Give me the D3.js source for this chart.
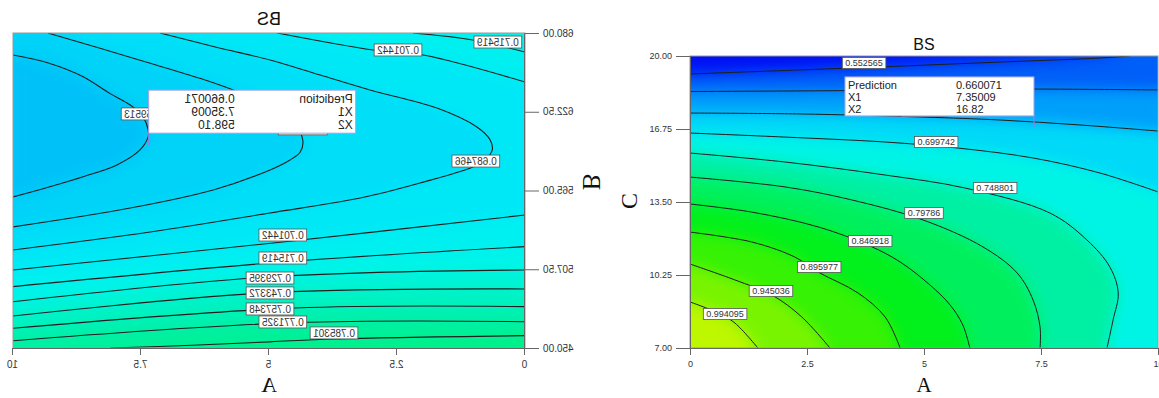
<!DOCTYPE html>
<html>
<head>
<meta charset="utf-8">
<script src="https://cdn.jsdelivr.net/npm/d3@7"></script>
<style>
  body { margin: 0; background: #fff; }
  svg { display: block; font-family: Arial, "Liberation Sans", sans-serif; }
</style>
</head>
<body>
<svg id="chart" width="1159" height="398"></svg>
<script>
// ---- values ----
const ticksA = [0, 2.5, 5, 7.5, 10];
const ticksB = [450, 507.5, 565, 622.5, 680];
const ticksC = [7, 10.25, 13.5, 16.75, 20];

// left panel: BS over A x B (the source shows this panel mirrored)
const levelsB = [0.659513, 0.673489, 0.687466, 0.701442, 0.715419, 0.729395, 0.743372, 0.757348, 0.771325, 0.785301];
// each branch runs with the higher values on its right-hand side
const contoursB = [
  [0.659513, [[10, 663.9], [9.28, 657.8], [8.63, 648.1], [8.11, 635.9], [7.71, 627.4], [7.46, 618.8], [7.36, 609.2], [7.36, 604.3], [7.52, 594.6], [7.97, 583.7], [8.63, 575.1], [9.28, 567.8], [10, 560.3]]],
  [0.673489, [[9.32, 680], [8.30, 668.8], [7.32, 657.9], [6.35, 646.9], [5.70, 638.4], [4.98, 627.4], [4.53, 615.0], [4.34, 601.9], [4.39, 593.1], [4.59, 587.3], [4.98, 580.0], [6.09, 565.4], [7.71, 552.2], [10, 538.4]]],
  [0.687466, [[7.13, 680], [6.05, 669.8], [4.98, 660.3], [4.00, 649.3], [3.03, 638.4], [1.72, 625.2], [0.94, 611.4], [0.68, 601.9], [0.64, 594.6], [0.78, 587.3], [1.02, 582.2], [2.05, 570.5], [3.22, 559.5], [4.98, 548.6], [7.32, 534.7], [10, 521.6]]],
  [0.701442, [[4.84, 680], [2.97, 667.6], [1.99, 663.9], [0, 644.2]]],
  [0.701442, [[0, 547.1], [4.73, 527.4], [10, 507.0]]],
  [0.715419, [[2.19, 680], [1.02, 674.9], [0, 666.1]]],
  [0.715419, [[0, 524.0], [4.73, 512.8], [10, 494.8]]],
  [0.729395, [[0, 507.0], [4.98, 502.0], [10, 483.8]]],
  [0.743372, [[0, 493.1], [4.98, 490.5], [10, 473.4]]],
  [0.757348, [[0, 480.2], [4.5, 479.2], [10, 464.4]]],
  [0.771325, [[0, 469.2], [4.5, 468.5], [10, 455.3]]],
  [0.785301, [[0, 459.0], [3.73, 456.6], [4.98, 454.5], [6.5, 452.0], [8.1, 450]]]
];
// [level, A, B, shown] - labels tucked under the prediction flag are not shown
const labelsB = [
  [0.715419, 0.53, 673.4, true], [0.701442, 2.48, 667.6, true], [0.659513, 7.42, 620.9, true],
  [0.673489, 4.34, 610.0, false], [0.687466, 0.96, 586.5, true], [0.701442, 4.73, 532.5, true],
  [0.715419, 4.73, 515.7, true], [0.729395, 4.98, 501.1, true], [0.743372, 4.98, 490.2, true],
  [0.757348, 4.98, 478.5, true], [0.771325, 4.73, 469.0, true], [0.785301, 3.73, 461.0, true]
];
const predB = [7.35009, 598.10];
const predTextB = ['0.660071', '7.35009', '598.10'];

// right panel: BS over A x C
const levelsC = [0.552565, 0.601624, 0.650683, 0.699742, 0.748801, 0.79786, 0.846918, 0.895977, 0.945036, 0.994095];
const contoursC = [
  [0.552565, [[0, 19.20], [2.35, 19.38], [4.49, 19.55], [6.62, 19.73], [8.76, 19.91], [9.4, 20]]],
  [0.601624, [[0, 18.42], [3.42, 18.46], [6.62, 18.53], [10, 18.49]]],
  [0.650683, [[0, 17.46], [2.35, 17.42], [5.0, 17.28], [6.62, 17.15], [8.33, 16.93], [10, 16.66]]],
  [0.699742, [[0, 16.57], [2.03, 16.39], [4.17, 16.17], [5.73, 15.90], [7.33, 15.46], [8.76, 14.79], [10, 13.95]]],
  [0.748801, [[0, 15.68], [2.03, 15.28], [4.17, 14.70], [5.88, 14.12], [7.69, 13.01], [8.48, 11.81], [8.97, 10.61], [9.15, 9.45], [9.04, 8.25], [8.91, 7]]],
  [0.79786, [[0, 14.61], [2.03, 14.17], [3.46, 13.59], [4.98, 12.70], [6.26, 11.50], [6.99, 10.34], [7.33, 9.14], [7.48, 7.93], [7.48, 7]]],
  [0.846918, [[0, 13.41], [1.32, 13.05], [2.74, 12.39], [3.85, 11.54], [4.49, 10.83], [5.13, 9.80], [5.56, 8.91], [5.83, 8.02], [5.98, 7]]],
  [0.895977, [[0, 12.16], [1.32, 11.72], [2.24, 11.05], [2.74, 10.38], [3.59, 9.45], [4.17, 8.38], [4.49, 7]]],
  [0.945036, [[0, 10.74], [0.96, 10.03], [1.75, 9.36], [2.39, 8.38], [2.99, 7]]],
  [0.994095, [[0, 9.05], [0.60, 8.56], [0.96, 8.11], [1.45, 7]]]
];
const labelsC = [
  [0.552565, 3.72, 19.69, true], [0.650683, 5.0, 17.56, false],
  [0.699742, 5.26, 16.17, true], [0.748801, 6.52, 14.12, true], [0.79786, 5.0, 13.01, true],
  [0.846918, 3.85, 11.76, true], [0.895977, 2.76, 10.61, true], [0.945036, 1.73, 9.54, true],
  [0.994095, 0.75, 8.51, true]
];
const predC = [7.35009, 16.82];
const predTextC = ['0.660071', '7.35009', '16.82'];
const predRows = ['Prediction', 'X1', 'X2'];

// ---- drawing ----
const svg = d3.select('#chart');
const defs = svg.append('defs');

const color = d3.scaleLinear()
  .domain([0.53, 0.58, 0.63, 0.66, 0.69, 0.72, 0.77, 0.82, 0.87, 0.93, 0.98, 1.03])
  .range(['#0010f4', '#0064f8', '#00a4fa', '#00ccf8', '#00e6f8', '#00f4ec', '#00f0a8', '#00f060', '#00f01c', '#40f200', '#88f400', '#ccf800'])
  .clamp(true);

// soften the colour bands into a gradient, keeping the plot edges opaque
const smooth = defs.append('filter').attr('id', 'smooth')
  .attr('color-interpolation-filters', 'sRGB');
smooth.append('feGaussianBlur').attr('stdDeviation', 7);
smooth.append('feComponentTransfer').append('feFuncA').attr('type', 'table').attr('tableValues', '1 1');

function panel(o) {
  const g = svg.append('g').attr('transform', o.transform);
  const x = d3.scaleLinear().domain([0, 10]).range(o.xRange);
  const y = d3.scaleLinear().domain(o.yDomain).range(o.yRange);
  const x0 = o.xRange[0], x1 = o.xRange[1], y0 = o.yRange[1], y1 = o.yRange[0];
  const W = x1 - x0, H = y1 - y0, P = 2 * (W + H);

  defs.append('clipPath').attr('id', o.id + '-clip')
    .append('rect').attr('x', x0).attr('y', y0).attr('width', W).attr('height', H);

  const line = d3.line().x(d => x(d[0])).y(d => y(d[1])).curve(d3.curveCatmullRom.alpha(0.5));

  // position along the frame, clockwise from top-left
  function perim(p) {
    const px = x(p[0]), py = y(p[1]);
    const dist = [Math.abs(py - y0), Math.abs(px - x1), Math.abs(py - y1), Math.abs(px - x0)];
    const side = dist.indexOf(d3.min(dist));
    if (side === 0) return px - x0;
    if (side === 1) return W + py - y0;
    if (side === 2) return W + H + x1 - px;
    return 2 * W + H + y1 - py;
  }
  const corners = [[0, [x0, y0]], [W, [x1, y0]], [W + H, [x1, y1]], [2 * W + H, [x0, y1]]];

  // area above a level: its branches closed clockwise along the frame
  function region(branches) {
    const used = new Set();
    let d = '';
    branches.forEach((b, i) => {
      if (used.has(i)) return;
      let cur = i, first = true;
      while (!used.has(cur)) {
        used.add(cur);
        const br = branches[cur];
        const seg = line(br);
        d += first ? seg : 'L' + seg.slice(1);
        first = false;
        const te = perim(br[br.length - 1]);
        let next = i, gap = (perim(branches[i][0]) - te + P) % P;
        branches.forEach((ob, j) => {
          if (used.has(j)) return;
          const dd = (perim(ob[0]) - te + P) % P;
          if (dd < gap) { gap = dd; next = j; }
        });
        corners.map(c => [(c[0] - te + P) % P, c[1]])
          .filter(c => c[0] > 0 && c[0] < gap)
          .sort((a, b) => a[0] - b[0])
          .forEach(c => { d += 'L' + c[1][0] + ',' + c[1][1]; });
        cur = next;
      }
      d += 'Z';
    });
    return d;
  }

  const levels = o.levels;
  const fill = g.append('g').attr('clip-path', `url(#${o.id}-clip)`)
    .append('g').attr('filter', 'url(#smooth)');
  fill.append('rect').attr('x', x0).attr('y', y0).attr('width', W).attr('height', H)
    .attr('fill', color(levels[0] - (levels[1] - levels[0]) / 2));
  levels.forEach((lv, i) => {
    const branches = o.contours.filter(c => c[0] === lv).map(c => c[1]);
    const mid = i < levels.length - 1 ? (lv + levels[i + 1]) / 2 : lv + (lv - levels[i - 1]) / 2;
    fill.append('path').attr('d', region(branches)).attr('fill', color(mid));
  });

  g.append('g').attr('clip-path', `url(#${o.id}-clip)`)
    .selectAll('path').data(o.contours).join('path')
    .attr('d', d => line(d[1]))
    .attr('fill', 'none').attr('stroke', '#1e1e1e').attr('stroke-width', o.lineW);

  // frame and axes
  g.append('rect').attr('x', x0).attr('y', y0).attr('width', W).attr('height', H)
    .attr('fill', 'none').attr('stroke', '#9a9a9a');

  const ax = g.append('g').attr('transform', `translate(0,${y1})`)
    .call(d3.axisBottom(x).tickValues(ticksA).tickFormat(d => d).tickSize(7).tickPadding(o.pad).tickSizeOuter(0));
  const ay = g.append('g').attr('transform', `translate(${x0},0)`)
    .call(d3.axisLeft(y).tickValues(o.yTicks).tickFormat(d3.format('.2f')).tickSize(14).tickPadding(4).tickSizeOuter(0));
  [ax, ay].forEach(a => {
    a.select('.domain').attr('stroke', '#666');
    a.selectAll('.tick line').attr('stroke', '#666');
    a.selectAll('.tick text').attr('fill', '#333').attr('font-size', o.tickFont)
      .attr('font-family', 'Arial, "Liberation Sans", sans-serif');
  });

  // contour labels
  const lab = g.append('g').selectAll('g').data(o.labels).join('g')
    .attr('transform', d => `translate(${x(d[1])},${y(d[2])})`);
  lab.append('rect');
  lab.filter(d => d[3]).append('text').text(d => String(d[0]))
    .attr('text-anchor', 'middle').attr('dy', '0.36em')
    .attr('font-size', o.labFont).attr('fill', '#333');
  lab.each(function (d) {
    const gg = d3.select(this);
    const t = gg.select('text').node();
    const w = (t ? t.getComputedTextLength() : o.labFont * 4.3) + 6;
    const h = o.labFont + 2;
    gg.select('rect').attr('x', -w / 2).attr('y', -h / 2).attr('width', w).attr('height', h)
      .attr('fill', '#fff').attr('stroke', '#555').attr('stroke-width', 0.8);
  });

  // prediction flag
  const px = x(o.pred[0]), py = y(o.pred[1]);
  const bx = px - o.box[0], by = py - o.box[2] - o.box[1];
  g.append('line').attr('x1', px).attr('x2', px).attr('y1', py - o.box[2]).attr('y2', py)
    .attr('stroke', '#8a7ff0').attr('stroke-width', 1.2);
  g.append('rect').attr('x', bx).attr('y', by).attr('width', o.box[0]).attr('height', o.box[1])
    .attr('fill', '#fff').attr('stroke', '#a9a3e6');
  const rowH = o.boxFont + 1;
  predRows.forEach((t, i) => {
    g.append('text').attr('x', bx + 3).attr('y', by + rowH * (i + 1))
      .attr('font-size', o.boxFont).attr('fill', '#222').text(t);
    g.append('text').attr('x', bx + o.box[3]).attr('y', by + rowH * (i + 1))
      .attr('font-size', o.boxFont).attr('fill', '#222').text(o.predText[i]);
  });

  // titles
  g.append('text').attr('x', (x0 + x1) / 2).attr('y', o.titleY).attr('text-anchor', 'middle')
    .attr('font-size', o.titleFont).attr('fill', '#111').text('BS');
  g.append('text').attr('x', (x0 + x1) / 2).attr('y', 392).attr('text-anchor', 'middle')
    .attr('font-family', '"Liberation Serif", "Times New Roman", serif')
    .attr('font-size', o.axFont).attr('fill', '#111').text('A');
  g.append('text').attr('transform', `translate(${o.yLab[0]},${o.yLab[1]}) rotate(-90)`)
    .attr('text-anchor', 'middle')
    .attr('font-family', '"Liberation Serif", "Times New Roman", serif')
    .attr('font-size', o.axFont + 3).attr('fill', '#111').text(o.yName);
}

panel({
  id: 'left', transform: 'translate(538,0) scale(-1,1)',
  xRange: [13, 525], yRange: [348, 33], yDomain: [450, 680], yTicks: ticksB,
  levels: levelsB, contours: contoursB, labels: labelsB,
  pred: predB, predText: predTextB, box: [207, 43, 12, 121], boxFont: 12,
  tickFont: 10, labFont: 10, titleFont: 18, titleY: 25, axFont: 22, pad: 6,
  yLab: [-45, 182], yName: 'B', lineW: 1.1
});

panel({
  id: 'right', transform: null,
  xRange: [690, 1158], yRange: [348, 56], yDomain: [7, 20], yTicks: ticksC,
  levels: levelsC, contours: contoursC, labels: labelsC,
  pred: predC, predText: predTextC, box: [189, 39, 11.5, 111], boxFont: 11,
  tickFont: 9, labFont: 9, titleFont: 16, titleY: 50, axFont: 21, pad: 6,
  yLab: [637, 201], yName: 'C', lineW: 1
});
</script>
</body>
</html>
